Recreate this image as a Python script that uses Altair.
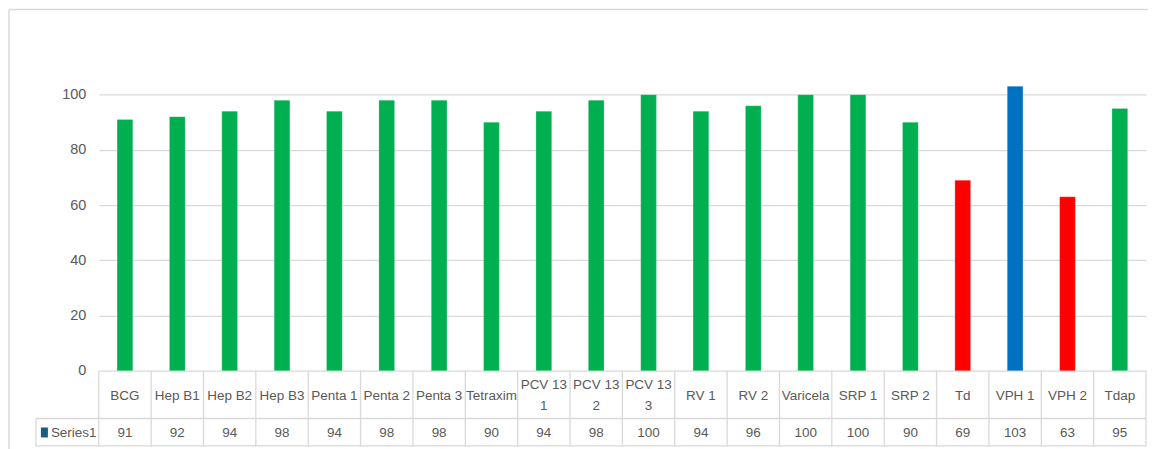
import altair as alt
import pandas as pd

categories = ["BCG", "Hep B1", "Hep B2", "Hep B3", "Penta 1", "Penta 2", "Penta 3",
              "Tetraxim", "PCV 13 1", "PCV 13 2", "PCV 13 3", "RV 1", "RV 2",
              "Varicela", "SRP 1", "SRP 2", "Td", "VPH 1", "VPH 2", "Tdap"]
header_labels = ["BCG", "Hep B1", "Hep B2", "Hep B3", "Penta 1", "Penta 2", "Penta 3",
                 "Tetraxim", "PCV 13\n1", "PCV 13\n2", "PCV 13\n3", "RV 1", "RV 2",
                 "Varicela", "SRP 1", "SRP 2", "Td", "VPH 1", "VPH 2", "Tdap"]
values = [91, 92, 94, 98, 94, 98, 98, 90, 94, 98, 100, 94, 96, 100, 100, 90, 69, 103, 63, 95]
bar_colors = ["#00B050"] * 16 + ["#FF0000", "#0070C0", "#FF0000", "#00B050"]
y_ticks = [0, 20, 40, 60, 80, 100]
series_name = "Series1"

FONT = "Liberation Sans"
TXT = "#595959"
GRID = "#d9d9d9"
W = 1050
H_TOP = 303
H_TAB = 76
ROW1 = 48
FS = 13.5
NOVIEW = alt.ViewBackground(stroke="transparent", strokeWidth=0)

df = pd.DataFrame({"cat": categories, "label": header_labels,
                   "value": values, "color": bar_colors})
one = alt.Data(values=[{}])

base = alt.Chart(df)

bars = base.mark_bar(stroke="#ffffff", strokeOpacity=0.35, strokeWidth=0.6).encode(
    x=alt.X("cat:N", sort=categories, axis=None,
            scale=alt.Scale(paddingInner=0.7, paddingOuter=0.35)),
    y=alt.Y("value:Q", scale=alt.Scale(domain=[0, 109.5], nice=False),
            axis=alt.Axis(values=y_ticks, title=None, domain=False, ticks=False,
                          grid=True, gridColor=GRID, gridWidth=1.3,
                          labelColor=TXT, labelFontSize=14.5, labelPadding=13,
                          labelFont=FONT)),
    color=alt.Color("color:N", scale=None),
)

border_left = alt.Chart(one).mark_rule(color=GRID, strokeWidth=1.5).encode(
    x=alt.value(-90), y=alt.value(-59), y2=alt.value(H_TOP + H_TAB + 10))
border_top = alt.Chart(one).mark_rule(color=GRID, strokeWidth=1.5).encode(
    x=alt.value(-90), x2=alt.value(1052), y=alt.value(-59))

top = alt.layer(bars, border_left, border_top).properties(
    width=W, height=H_TOP, view=NOVIEW)

tx = alt.X("cat:N", sort=categories, axis=None,
           scale=alt.Scale(paddingInner=0, paddingOuter=0))

vlines = base.mark_rule(color=GRID, strokeWidth=1.3).encode(
    x=alt.X("cat:N", sort=categories, axis=None,
            scale=alt.Scale(paddingInner=0, paddingOuter=0), bandPosition=0),
    y=alt.value(0), y2=alt.value(H_TAB))
vright = alt.Chart(one).mark_rule(color=GRID, strokeWidth=1.3).encode(
    x=alt.value(W), y=alt.value(0), y2=alt.value(H_TAB))
vleft = alt.Chart(one).mark_rule(color=GRID, strokeWidth=1.3).encode(
    x=alt.value(-63), y=alt.value(ROW1), y2=alt.value(H_TAB))
hmid = alt.Chart(one).mark_rule(color=GRID, strokeWidth=1.3).encode(
    x=alt.value(-63), x2=alt.value(W), y=alt.value(ROW1))
hbot = alt.Chart(one).mark_rule(color=GRID, strokeWidth=1.3).encode(
    x=alt.value(-63), x2=alt.value(W), y=alt.value(H_TAB - 0.5))

head_single = base.transform_filter(
    "indexof(datum.label, '\\n') < 0"
).mark_text(font=FONT, fontSize=FS, color=TXT, baseline="middle").encode(
    x=tx, y=alt.value(25), text="label:N")
head_double = base.transform_filter(
    "indexof(datum.label, '\\n') >= 0"
).mark_text(font=FONT, fontSize=FS, color=TXT, lineBreak="\n",
            lineHeight=21, baseline="middle").encode(
    x=tx, y=alt.value(14.5), text="label:N")
val_text = base.mark_text(font=FONT, fontSize=FS, color=TXT,
                          baseline="middle").encode(
    x=tx, y=alt.value(62.5), text="value:Q")

swatch = alt.Chart(one).mark_rect(color="#156082").encode(
    x=alt.value(-58), x2=alt.value(-51), y=alt.value(57), y2=alt.value(67))
series_text = alt.Chart(one).mark_text(font=FONT, fontSize=FS, color=TXT,
                                       align="left", baseline="middle").encode(
    x=alt.value(-48), y=alt.value(62.5), text=alt.value(series_name))

table = alt.layer(vlines, vright, vleft, hmid, hbot, head_single, head_double,
                  val_text, swatch, series_text).properties(
    width=W, height=H_TAB, view=NOVIEW)

chart = alt.vconcat(top, table, spacing=0, bounds="flush").resolve_scale(
    x="independent").properties(
    padding={"top": 0, "left": 0, "right": 0, "bottom": 0}
).configure(font=FONT, background="white").configure_view(
    strokeWidth=0, stroke="transparent")

chart.save("out.html", embed_options={"renderer": "svg", "actions": False})
